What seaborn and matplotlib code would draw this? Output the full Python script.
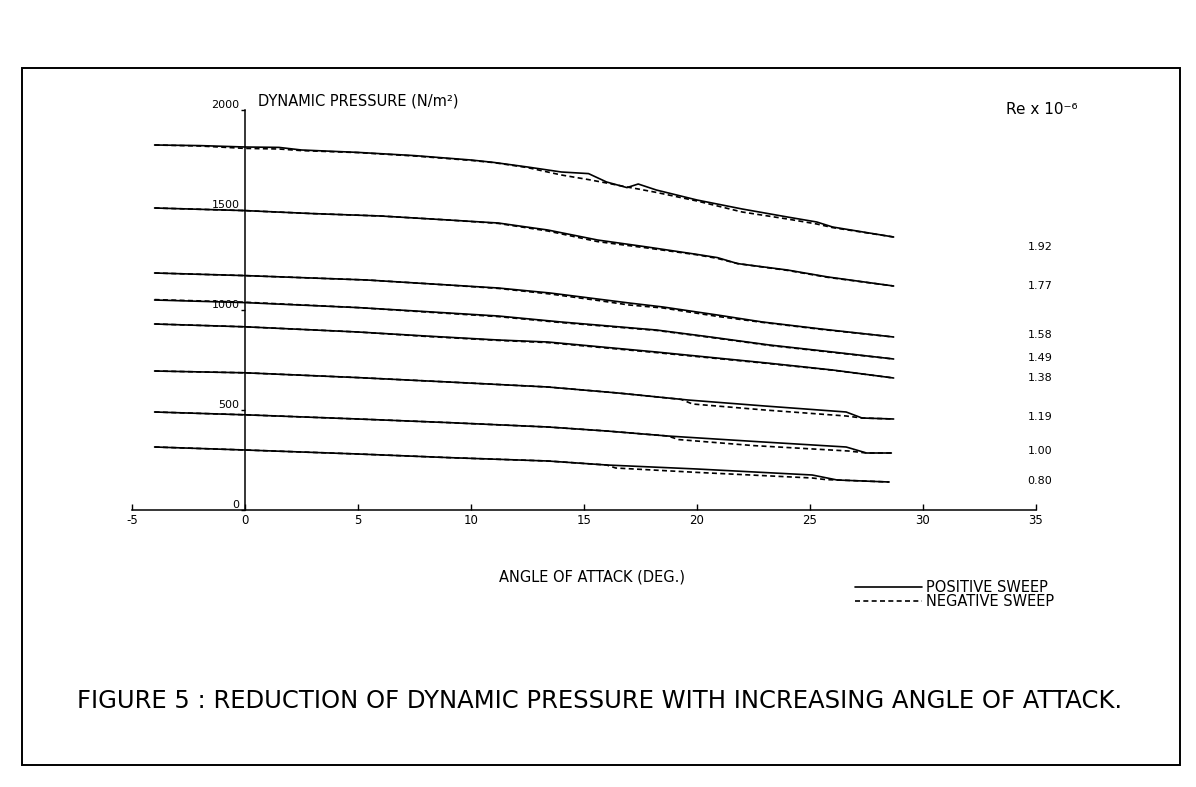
import pandas as pd
import numpy as np
import matplotlib
matplotlib.use('Agg')
import matplotlib.pyplot as plt
from matplotlib.lines import Line2D
from matplotlib.patches import Rectangle
import seaborn as sns

# ==========================================
# Data
# angle of attack (deg) vs dynamic pressure (N/m^2), one curve per Re x 10^-6
# ==========================================
re_labels = ['1.92', '1.77', '1.58', '1.49', '1.38', '1.19', '1.00', '0.80']

a_192 = [-4, -2, 0, 1.5, 2.5, 5, 7.5, 10, 11, 12.5, 14, 15.2, 16, 16.9, 17.4, 18.2, 20, 22, 24, 25.3, 26, 28.7]
pos_192 = [1825, 1822, 1815, 1813, 1800, 1788, 1772, 1750, 1738, 1715, 1690, 1682, 1640, 1612, 1630, 1600, 1550, 1505, 1465, 1440, 1415, 1365]
neg_192 = [1825, 1820, 1808, 1805, 1797, 1787, 1770, 1748, 1737, 1712, 1675, 1652, 1635, 1615, 1605, 1588, 1545, 1490, 1455, 1430, 1412, 1365]

a_177 = [-4, 0, 3, 6, 9, 11.2, 13.4, 15.6, 17.8, 20, 20.9, 21.8, 24, 25.8, 28.7]
pos_177 = [1510, 1497, 1482, 1470, 1450, 1435, 1400, 1350, 1315, 1278, 1262, 1232, 1200, 1165, 1120]
neg_177 = [1510, 1497, 1482, 1470, 1450, 1433, 1395, 1342, 1310, 1276, 1258, 1232, 1198, 1163, 1120]

a_158 = [-4, 0, 5.4, 8, 11.2, 13.5, 15.6, 17, 18.5, 20.9, 22.9, 25.5, 28.7]
pos_158 = [1185, 1172, 1150, 1132, 1110, 1085, 1055, 1035, 1015, 975, 940, 905, 865]
neg_158 = [1185, 1172, 1150, 1132, 1108, 1080, 1048, 1025, 1010, 968, 938, 903, 865]

a_149 = [-4, 0, 5, 8, 11.2, 14, 18.2, 20.6, 23.2, 26, 28.7]
pos_149 = [1050, 1037, 1012, 992, 970, 940, 900, 865, 825, 790, 755]
neg_149 = [1052, 1039, 1012, 990, 967, 937, 898, 863, 823, 788, 755]

a_138 = [-4, 0, 5, 8, 11.2, 13.4, 18.2, 23.1, 26, 28.7]
pos_138 = [930, 916, 890, 870, 850, 840, 790, 735, 700, 660]
neg_138 = [930, 916, 890, 868, 848, 837, 787, 733, 699, 660]

a_119_pos = [-4, 0, 5, 9, 13.4, 16.5, 19.6, 23, 26.6, 27.3, 28.7]
pos_119 = [695, 686, 662, 640, 615, 585, 550, 520, 490, 460, 455]
a_119_neg = [-4, 0, 5, 9, 13.4, 16.5, 19.3, 19.8, 23, 26.6, 27.3, 28.7]
neg_119 = [695, 686, 662, 640, 615, 585, 553, 530, 500, 470, 460, 455]

a_100_pos = [-4, 0, 5, 9, 13.4, 16, 18.7, 22.5, 26.6, 27.5, 28.6]
pos_100 = [490, 476, 455, 437, 415, 395, 370, 343, 315, 285, 285]
a_100_neg = [-4, 0, 5, 9, 13.4, 16, 18.7, 19.2, 22.5, 26.7, 27.5, 28.6]
neg_100 = [490, 476, 455, 437, 415, 395, 370, 352, 322, 295, 285, 285]

a_080_pos = [-4, 0, 5, 9, 13.4, 16, 20, 25.1, 26.2, 28.5]
pos_080 = [315, 300, 280, 262, 245, 225, 205, 175, 150, 140]
a_080_neg = [-4, 0, 5, 9, 13.4, 16, 16.4, 20, 25.1, 25.7, 26.2, 28.5]
neg_080 = [315, 300, 280, 262, 245, 225, 210, 188, 160, 152, 150, 140]

x_ticks = [-5, 0, 5, 10, 15, 20, 25, 30, 35]
y_ticks = [0, 500, 1000, 1500, 2000]

curves = [
    ('1.92', a_192, pos_192, a_192, neg_192),
    ('1.77', a_177, pos_177, a_177, neg_177),
    ('1.58', a_158, pos_158, a_158, neg_158),
    ('1.49', a_149, pos_149, a_149, neg_149),
    ('1.38', a_138, pos_138, a_138, neg_138),
    ('1.19', a_119_pos, pos_119, a_119_neg, neg_119),
    ('1.00', a_100_pos, pos_100, a_100_neg, neg_100),
    ('0.80', a_080_pos, pos_080, a_080_neg, neg_080),
]

rows = []
for re, ap, qp, an, qn in curves:
    for a, q in zip(ap, qp):
        rows.append((re, 'POSITIVE SWEEP', a, q))
    for a, q in zip(an, qn):
        rows.append((re, 'NEGATIVE SWEEP', a, q))
df = pd.DataFrame(rows, columns=['Re', 'Sweep', 'Angle', 'Q'])
df['Curve'] = df['Re'] + ' ' + df['Sweep']

sns.set_style('ticks')
plt.rcParams['font.family'] = ['DejaVu Sans']
plt.rcParams['text.color'] = 'black'
plt.rcParams['xtick.color'] = 'black'
plt.rcParams['ytick.color'] = 'black'
plt.rcParams['axes.edgecolor'] = 'black'
plt.rcParams['axes.unicode_minus'] = False

W, H = 1196, 787
fig = plt.figure(figsize=(W / 100, H / 100), dpi=100)

# axes placed so that 0 deg sits at x=245 px and 0..2000 spans y=510..110 px
ax = fig.add_axes([132 / W, (H - 510) / H, 904 / W, 400 / H])

sns.lineplot(data=df, x='Angle', y='Q', units='Curve', estimator=None,
             style='Sweep', dashes={'POSITIVE SWEEP': '', 'NEGATIVE SWEEP': (3, 2)},
             color='black', linewidth=1.2, sort=False, legend=False, ax=ax)

ax.set_xlim(-5, 35)
ax.set_ylim(0, 2000)
ax.spines['left'].set_position(('data', 0))
ax.spines['top'].set_visible(False)
ax.spines['right'].set_visible(False)
ax.spines['left'].set_linewidth(1.1)
ax.spines['bottom'].set_linewidth(1.1)
ax.set_xticks(x_ticks)
ax.set_yticks(y_ticks)
ax.tick_params(axis='x', direction='in', length=4, width=1, labelsize=8.5, pad=3)
ax.tick_params(axis='y', direction='out', length=3, width=1, labelsize=8, pad=1)
for lab in ax.get_yticklabels():
    lab.set_verticalalignment('bottom')
ax.set_xlabel('')
ax.set_ylabel('')

def px(x, y):
    return x / W, 1 - y / H

fig.text(*px(258, 101), 'DYNAMIC PRESSURE (N/m²)', fontsize=10.5, ha='left', va='center')
fig.text(*px(592, 577), 'ANGLE OF ATTACK (DEG.)', fontsize=10.5, ha='center', va='center')
fig.text(*px(1006, 110), 'Re x 10⁻⁶', fontsize=11, ha='left', va='center')

re_label_y = [247, 286, 335, 358, 378, 417, 451, 481]
for lab, yy in zip(re_labels, re_label_y):
    fig.text(*px(1040, yy), lab, fontsize=8, ha='center', va='center')

handles = [Line2D([0], [0], color='black', lw=1.2),
           Line2D([0], [0], color='black', lw=1.2, linestyle=(0, (3, 2)))]
fig.legend(handles, ['POSITIVE SWEEP', 'NEGATIVE SWEEP'], loc='upper left',
           bbox_to_anchor=px(855, 580), frameon=False, fontsize=10.5,
           handlelength=4.6, handletextpad=0.3, labelspacing=-0.05, borderpad=0,
           borderaxespad=0)

fig.text(*px(600, 701), 'FIGURE 5 : REDUCTION OF DYNAMIC PRESSURE WITH INCREASING ANGLE OF ATTACK.',
         fontsize=17.5, ha='center', va='center')

# outer frame of the figure plate
fig.patches.append(Rectangle((22 / W, 1 - 765 / H), (1180 - 22) / W, (765 - 68) / H,
                             transform=fig.transFigure, fill=False,
                             edgecolor='black', linewidth=1.4))

fig.savefig('out.png', dpi=100)
